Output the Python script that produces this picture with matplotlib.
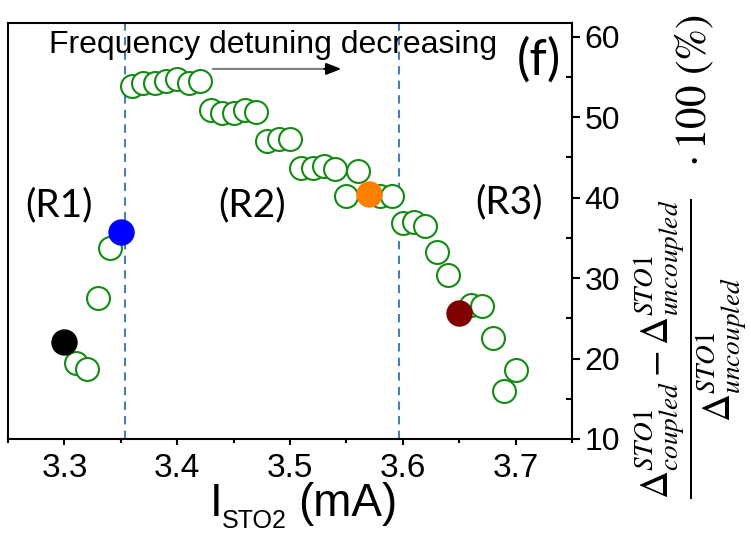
import matplotlib
matplotlib.use('Agg')
import matplotlib.pyplot as plt
from matplotlib.ticker import MultipleLocator

# open (green) points
x_open = [3.31, 3.32, 3.33, 3.34, 3.36, 3.37, 3.38, 3.39, 3.40, 3.41, 3.42,
          3.43, 3.44, 3.45, 3.46, 3.47, 3.48, 3.49, 3.50, 3.51, 3.52, 3.53,
          3.54, 3.55, 3.56, 3.58, 3.59, 3.60, 3.61, 3.62, 3.63, 3.64, 3.66,
          3.67, 3.68, 3.69, 3.70]
y_open = [19.5, 18.7, 27.5, 33.8, 53.9, 54.3, 54.2, 54.5, 54.7, 54.2, 54.5,
          50.9, 50.5, 50.5, 50.9, 50.7, 47.0, 47.3, 47.3, 43.7, 43.7, 43.9,
          43.5, 40.2, 43.3, 40.2, 40.2, 36.8, 37.0, 36.5, 33.3, 30.4, 26.6,
          26.5, 22.6, 16.0, 18.6]

# highlighted (filled) points
x_filled = [3.30, 3.35, 3.57, 3.65]
y_filled = [22.0, 35.7, 40.5, 25.7]
filled_colors = ['black', '#0000ff', '#ff8000', '#800000']

# region boundaries
boundaries = [3.354, 3.597]
region_labels = ['(R1)', '(R2)', '(R3)']
region_x = [3.2956, 3.466, 3.6945]
region_y = [39.1, 39.1, 39.4]

x_ticks = [3.3, 3.4, 3.5, 3.6, 3.7]
y_ticks = [10, 20, 30, 40, 50, 60]


def main():
    plt.rcParams['mathtext.fontset'] = 'stix'
    fig = plt.figure(figsize=(7.51, 5.36), dpi=100)
    ax = fig.add_axes([0.0107, 0.181, 0.7510, 0.776])

    for b in boundaries:
        ax.axvline(b, color='#4a7ebb', lw=1.5, dashes=(4, 3), zorder=1)

    ax.plot(x_open, y_open, 'o', ls='none', ms=16.5, mfc='white',
            mec='#138a13', mew=1.5, zorder=2)
    for xf, yf, c in zip(x_filled, y_filled, filled_colors):
        ax.plot(xf, yf, 'o', ms=18, color=c, mec=c, zorder=3)

    ax.set_xlim(3.25, 3.75)
    ax.set_ylim(10, 61.7)
    ax.set_xticks(x_ticks)
    ax.set_yticks(y_ticks)
    ax.xaxis.set_minor_locator(MultipleLocator(0.05))
    ax.yaxis.set_minor_locator(MultipleLocator(5))
    ax.yaxis.tick_right()

    for s in ax.spines.values():
        s.set_linewidth(1.5)

    ax.tick_params(axis='x', which='major', direction='out', length=4,
                   width=1.5, labelsize=24, pad=6)
    ax.tick_params(axis='x', which='minor', direction='out', length=3,
                   width=1.5)
    ax.tick_params(axis='y', which='major', direction='out', length=6,
                   width=1.5, labelsize=23, pad=3)
    ax.tick_params(axis='y', which='minor', direction='in', length=4,
                   width=1.5)
    for lab in ax.get_xticklabels() + ax.get_yticklabels():
        lab.set_fontfamily('Liberation Sans')

    # x label drawn in pieces to get the small subscript
    fig.text(210 / 751, 1 - 516 / 536, 'I', fontsize=33,
             family='Liberation Sans', va='baseline', ha='left')
    fig.text(222 / 751, 1 - 528 / 536, 'STO2', fontsize=18,
             family='Liberation Sans', va='baseline', ha='left')
    fig.text(298 / 751, 1 - 516 / 536, '(mA)', fontsize=33,
             family='Liberation Sans', va='baseline', ha='left')

    ax.text(3.2867, 58.0, 'Frequency detuning decreasing', fontsize=23,
            family='Liberation Sans', va='baseline', ha='left')
    ax.annotate('', xy=(3.535, 56.0), xytext=(3.429, 56.0),
                arrowprops=dict(arrowstyle='-', color='#808080', lw=1.5))
    ax.annotate('', xy=(3.548, 56.0), xytext=(3.528, 56.0),
                arrowprops=dict(arrowstyle='-|>,head_width=0.35,head_length=0.9',
                                color='black', lw=1.5))

    ax.text(3.721, 57.1, '(f)', fontsize=36, family='Lato',
            ha='center', va='center')
    for lab, rx, ry in zip(region_labels, region_x, region_y):
        ax.text(rx, ry, lab, fontsize=28, family='Lato',
                ha='center', va='center')

    # right-hand y label: fraction and the "· 100 (%)" part
    fig.text(0.921, 1 - 349 / 536,
             r'$\dfrac{\Delta^{STO1}_{coupled}-\Delta^{STO1}_{uncoupled}}'
             r'{\Delta^{STO1}_{uncoupled}}$',
             rotation=90, fontsize=28, ha='center', va='center')
    fig.text(0.925, 1 - 90 / 536, r'$\cdot\,\mathrm{100\ (\%)}$',
             rotation=90, fontsize=31, ha='center', va='center')

    fig.savefig('out.png', dpi=100)


if __name__ == '__main__':
    main()
